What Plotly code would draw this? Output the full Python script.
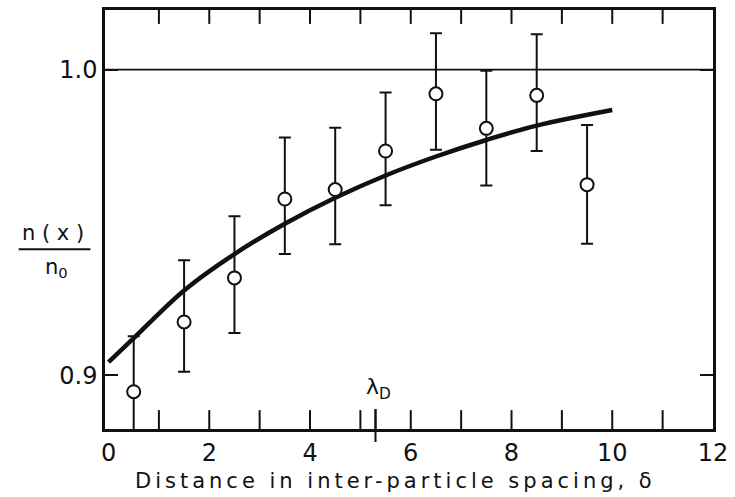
import plotly.graph_objects as go

# Measured density ratio n(x)/n0 in bins of inter-particle spacing
x_bins = [0.5, 1.5, 2.5, 3.5, 4.5, 5.5, 6.5, 7.5, 8.5, 9.5]
ratio = [0.8947, 0.9175, 0.9319, 0.9577, 0.9608, 0.9734, 0.9921, 0.9808, 0.9916, 0.9624]
ratio_hi = [0.9128, 0.9377, 0.9521, 0.9778, 0.9810, 0.9925, 1.0119, 0.9996, 1.0116, 0.9819]
ratio_lo = [0.8728, 0.9012, 0.9139, 0.9397, 0.9429, 0.9557, 0.9738, 0.9621, 0.9734, 0.9431]

# Smooth theoretical curve, sampled
curve_x = [0.0, 0.5, 1.5, 2.5, 3.5, 4.5, 5.5, 6.5, 7.5, 8.5, 10.0]
curve_y = [0.9044, 0.9122, 0.9278, 0.9397, 0.9496, 0.9581, 0.9654, 0.9716, 0.9770, 0.9817, 0.9868]

# Debye length marker on the x axis
lambda_D = 5.3
reference_level = 1.0

x_label_ticks = [0, 2, 4, 6, 8, 10, 12]
x_mark_ticks = [1, 2, 3, 4, 5, 6, 7, 8, 9, 10, 11]
y_ticks = [0.9, 1.0]
y_tick_text = ["0.9", "1.0"]

X_RANGE = [-0.07, 12.0]
Y_RANGE = [0.8825, 1.0195]
PLOT_H = 497 - 7 - 68          # plot area height in px
px_to_y = (Y_RANGE[1] - Y_RANGE[0]) / PLOT_H
BOTTOM_TICK = 19 * px_to_y     # inward tick lengths
TOP_TICK = 14 * px_to_y

FONT = "DejaVu Sans"
INK = "#111111"

err_plus = [h - r for h, r in zip(ratio_hi, ratio)]
err_minus = [r - l for r, l in zip(ratio, ratio_lo)]

fig = go.Figure()

# Horizontal reference at n/n0 = 1
fig.add_trace(go.Scatter(
    x=X_RANGE, y=[reference_level, reference_level], mode="lines",
    line=dict(color=INK, width=1.8), showlegend=False, hoverinfo="skip",
))

# Inward frame ticks along bottom (long) and top (short), plus the lambda_D mark
tick_x, tick_y = [], []
for v in x_mark_ticks:
    tick_x += [v, v, None, v, v, None]
    tick_y += [Y_RANGE[0], Y_RANGE[0] + BOTTOM_TICK, None,
               Y_RANGE[1], Y_RANGE[1] - TOP_TICK, None]
tick_x += [lambda_D, lambda_D]
tick_y += [Y_RANGE[0], Y_RANGE[0] + 20 * px_to_y]
fig.add_trace(go.Scatter(
    x=tick_x, y=tick_y, mode="lines", connectgaps=False,
    line=dict(color=INK, width=2), cliponaxis=False,
    showlegend=False, hoverinfo="skip",
))

fig.add_trace(go.Scatter(
    x=curve_x, y=curve_y, mode="lines",
    line=dict(color=INK, width=4.5, shape="spline", smoothing=1.0),
    showlegend=False, hoverinfo="skip",
))

fig.add_trace(go.Scatter(
    x=x_bins, y=ratio, mode="markers",
    marker=dict(symbol="circle", size=13, color="white",
                line=dict(color=INK, width=2)),
    error_y=dict(type="data", symmetric=False, array=err_plus,
                 arrayminus=err_minus, color=INK, thickness=2, width=6),
    cliponaxis=False, showlegend=False,
))

# Part of the lambda_D mark hanging below the axis
fig.add_shape(type="line", xref="x", yref="paper", ysizemode="pixel",
              yanchor=0, x0=lambda_D, x1=lambda_D, y0=-13, y1=20,
              line=dict(color=INK, width=2))
fig.add_annotation(x=lambda_D, y=0.058, xref="x", yref="paper",
                   text="λ<sub>D</sub>", showarrow=False,
                   xanchor="left", yanchor="bottom", xshift=-12,
                   font=dict(family=FONT, size=22, color=INK))

# Y axis label written as a fraction
fig.add_annotation(x=-0.0855, y=0.468, xref="paper", yref="paper",
                   text="n ( x )", showarrow=False,
                   xanchor="center", yanchor="middle",
                   font=dict(family=FONT, size=21, color=INK))
fig.add_shape(type="line", xref="paper", yref="paper",
              x0=-0.142, x1=-0.024, y0=0.429, y1=0.429,
              line=dict(color=INK, width=1.8))
fig.add_annotation(x=-0.0795, y=0.385, xref="paper", yref="paper",
                   text="n<sub>0</sub>", showarrow=False,
                   xanchor="center", yanchor="middle",
                   font=dict(family=FONT, size=21, color=INK))

# X axis title with wide letter spacing
fig.add_annotation(x=0.477, y=-0.125, xref="paper", yref="paper",
                   text='<span style="letter-spacing:4px">Distance in inter-particle spacing, δ</span>',
                   showarrow=False, xanchor="center", yanchor="middle",
                   font=dict(family=FONT, size=21, color=INK))

fig.update_layout(
    width=735, height=497,
    margin=dict(l=105, r=22, t=7, b=68),
    paper_bgcolor="white", plot_bgcolor="white",
    font=dict(family=FONT, size=24, color=INK),
    xaxis=dict(range=X_RANGE, tickmode="array", tickvals=x_label_ticks,
               ticks="", showgrid=False, zeroline=False, showline=True,
               linecolor=INK, linewidth=2.5, mirror=True,
               tickfont=dict(family=FONT, size=24, color=INK)),
    yaxis=dict(range=Y_RANGE, tickvals=y_ticks, ticktext=y_tick_text,
               ticks="inside", ticklen=13, tickwidth=2, tickcolor=INK,
               showgrid=False, zeroline=False, showline=True,
               linecolor=INK, linewidth=2.5, mirror="ticks",
               tickfont=dict(family=FONT, size=24, color=INK)),
)

fig.write_html("out.html")
